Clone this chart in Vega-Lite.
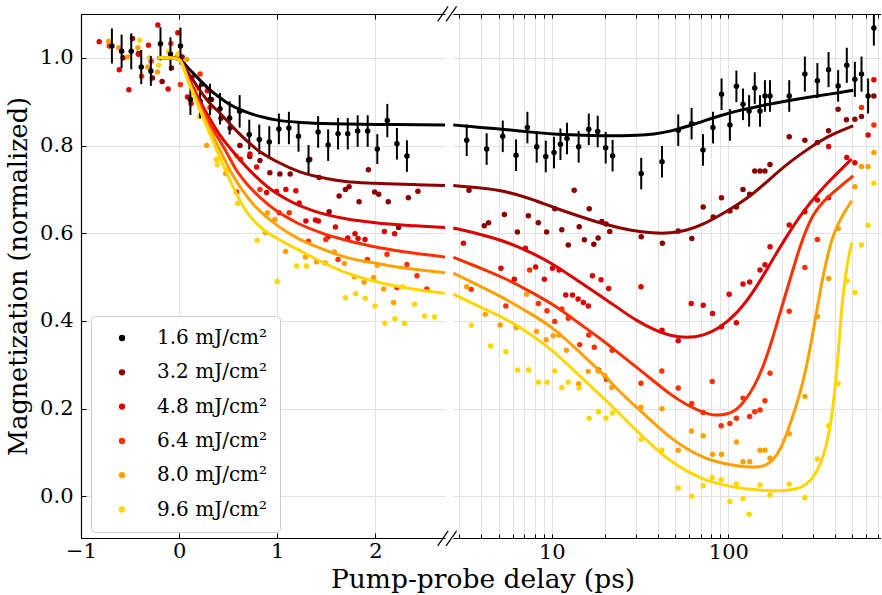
{
  "$schema": "https://vega.github.io/schema/vega-lite/v6.json",
  "padding": {"left": 6, "top": 5, "right": 0, "bottom": 0},
  "bounds": "flush",
  "spacing": 8,
  "background": "white",
  "title": {"text": "Pump-probe delay (ps)", "orient": "bottom", "anchor": "middle", "frame": "group", "dx": 402, "font": "DejaVu Serif", "fontSize": 26.5, "fontWeight": "normal", "color": "black", "offset": 5},
  "config": {
    "view": {"stroke": null},
    "font": "DejaVu Serif",
    "axis": {
      "labelFont": "DejaVu Serif", "titleFont": "DejaVu Serif",
      "labelFontSize": 21, "titleFontSize": 25.5, "titleFontWeight": "normal",
      "labelColor": "black", "titleColor": "black",
      "domainColor": "black", "domainWidth": 1.2,
      "tickColor": "black", "tickWidth": 1, "tickSize": -5,
      "gridColor": "#e2e2e2", "gridWidth": 1,
      "labelFlush": false, "labelOverlap": false
    },
    "legend": {
      "labelFont": "DejaVu Serif", "labelFontSize": 20, "labelColor": "black",
      "symbolType": "circle", "symbolSize": 40, "symbolStrokeWidth": 0
    }
  },
  "resolve": {"scale": {"x": "independent", "y": "independent", "color": "shared"}, "legend": {"color": "independent"}},
  "datasets": {
    "blk": [
      {"s":"1.6","t":-0.685,"m":1.027,"lo":0.987,"hi":1.067},
      {"s":"1.6","t":-0.586,"m":1.015,"lo":0.977,"hi":1.053},
      {"s":"1.6","t":-0.488,"m":1.015,"lo":0.974,"hi":1.056},
      {"s":"1.6","t":-0.386,"m":0.979,"lo":0.940,"hi":1.018},
      {"s":"1.6","t":-0.288,"m":0.970,"lo":0.936,"hi":1.004},
      {"s":"1.6","t":-0.19,"m":1.032,"lo":0.994,"hi":1.070},
      {"s":"1.6","t":-0.088,"m":1.009,"lo":0.971,"hi":1.047},
      {"s":"1.6","t":0.014,"m":1.027,"lo":0.985,"hi":1.069},
      {"s":"1.6","t":0.115,"m":0.905,"lo":0.870,"hi":0.940},
      {"s":"1.6","t":0.214,"m":0.901,"lo":0.862,"hi":0.940},
      {"s":"1.6","t":0.315,"m":0.905,"lo":0.869,"hi":0.941},
      {"s":"1.6","t":0.417,"m":0.884,"lo":0.848,"hi":0.920},
      {"s":"1.6","t":0.515,"m":0.863,"lo":0.825,"hi":0.901},
      {"s":"1.6","t":0.617,"m":0.878,"lo":0.841,"hi":0.915},
      {"s":"1.6","t":0.715,"m":0.825,"lo":0.791,"hi":0.859},
      {"s":"1.6","t":0.817,"m":0.814,"lo":0.780,"hi":0.848},
      {"s":"1.6","t":0.919,"m":0.808,"lo":0.772,"hi":0.844},
      {"s":"1.6","t":1.017,"m":0.838,"lo":0.803,"hi":0.873},
      {"s":"1.6","t":1.119,"m":0.840,"lo":0.803,"hi":0.877},
      {"s":"1.6","t":1.217,"m":0.821,"lo":0.786,"hi":0.856},
      {"s":"1.6","t":1.319,"m":0.767,"lo":0.733,"hi":0.801},
      {"s":"1.6","t":1.417,"m":0.831,"lo":0.795,"hi":0.867},
      {"s":"1.6","t":1.519,"m":0.801,"lo":0.765,"hi":0.837},
      {"s":"1.6","t":1.62,"m":0.827,"lo":0.791,"hi":0.863},
      {"s":"1.6","t":1.719,"m":0.827,"lo":0.791,"hi":0.863},
      {"s":"1.6","t":1.82,"m":0.833,"lo":0.797,"hi":0.869},
      {"s":"1.6","t":1.922,"m":0.833,"lo":0.797,"hi":0.869},
      {"s":"1.6","t":2.02,"m":0.792,"lo":0.758,"hi":0.826},
      {"s":"1.6","t":2.122,"m":0.857,"lo":0.819,"hi":0.895},
      {"s":"1.6","t":2.22,"m":0.804,"lo":0.768,"hi":0.840},
      {"s":"1.6","t":2.322,"m":0.776,"lo":0.740,"hi":0.812},
      {"s":"1.6","t":3.30,"m":0.812,"lo":0.776,"hi":0.848},
      {"s":"1.6","t":4.28,"m":0.792,"lo":0.756,"hi":0.828},
      {"s":"1.6","t":5.28,"m":0.821,"lo":0.785,"hi":0.857},
      {"s":"1.6","t":6.28,"m":0.778,"lo":0.742,"hi":0.814},
      {"s":"1.6","t":7.28,"m":0.841,"lo":0.805,"hi":0.877},
      {"s":"1.6","t":8.22,"m":0.797,"lo":0.761,"hi":0.833},
      {"s":"1.6","t":9.25,"m":0.775,"lo":0.739,"hi":0.811},
      {"s":"1.6","t":10.3,"m":0.784,"lo":0.748,"hi":0.820},
      {"s":"1.6","t":11.2,"m":0.803,"lo":0.767,"hi":0.839},
      {"s":"1.6","t":12.2,"m":0.816,"lo":0.780,"hi":0.852},
      {"s":"1.6","t":14.2,"m":0.797,"lo":0.761,"hi":0.833},
      {"s":"1.6","t":16.2,"m":0.837,"lo":0.801,"hi":0.873},
      {"s":"1.6","t":18.2,"m":0.832,"lo":0.796,"hi":0.868},
      {"s":"1.6","t":20.2,"m":0.795,"lo":0.759,"hi":0.831},
      {"s":"1.6","t":22.1,"m":0.777,"lo":0.741,"hi":0.813},
      {"s":"1.6","t":32.1,"m":0.736,"lo":0.700,"hi":0.772},
      {"s":"1.6","t":42.1,"m":0.763,"lo":0.727,"hi":0.799},
      {"s":"1.6","t":52.0,"m":0.835,"lo":0.799,"hi":0.871},
      {"s":"1.6","t":61.9,"m":0.850,"lo":0.814,"hi":0.886},
      {"s":"1.6","t":71.8,"m":0.790,"lo":0.754,"hi":0.826},
      {"s":"1.6","t":81.8,"m":0.841,"lo":0.805,"hi":0.877},
      {"s":"1.6","t":91.5,"m":0.917,"lo":0.881,"hi":0.953},
      {"s":"1.6","t":102,"m":0.847,"lo":0.811,"hi":0.883},
      {"s":"1.6","t":111,"m":0.935,"lo":0.899,"hi":0.971},
      {"s":"1.6","t":121,"m":0.894,"lo":0.858,"hi":0.930},
      {"s":"1.6","t":131,"m":0.879,"lo":0.843,"hi":0.915},
      {"s":"1.6","t":141,"m":0.931,"lo":0.895,"hi":0.967},
      {"s":"1.6","t":151,"m":0.879,"lo":0.843,"hi":0.915},
      {"s":"1.6","t":161,"m":0.913,"lo":0.877,"hi":0.949},
      {"s":"1.6","t":172,"m":0.913,"lo":0.877,"hi":0.949},
      {"s":"1.6","t":221,"m":0.913,"lo":0.877,"hi":0.949},
      {"s":"1.6","t":271,"m":0.963,"lo":0.923,"hi":1.003},
      {"s":"1.6","t":319,"m":0.948,"lo":0.908,"hi":0.988},
      {"s":"1.6","t":369,"m":0.973,"lo":0.933,"hi":1.013},
      {"s":"1.6","t":418,"m":0.936,"lo":0.900,"hi":0.972},
      {"s":"1.6","t":468,"m":0.983,"lo":0.943,"hi":1.023},
      {"s":"1.6","t":520,"m":0.951,"lo":0.911,"hi":0.991},
      {"s":"1.6","t":567,"m":0.963,"lo":0.923,"hi":1.003},
      {"s":"1.6","t":618,"m":0.913,"lo":0.873,"hi":0.953},
      {"s":"1.6","t":666,"m":1.068,"lo":1.028,"hi":1.108}
    ],
    "pts": [
      {"s":"3.2","t":-0.57,"m":1.0},{"s":"3.2","t":-0.475,"m":1.044},{"s":"3.2","t":-0.414,"m":1.01},{"s":"3.2","t":-0.272,"m":0.954},
      {"s":"3.2","t":-0.173,"m":0.946},{"s":"3.2","t":-0.078,"m":0.977},{"s":"3.2","t":0.031,"m":1.002},{"s":"3.2","t":0.13,"m":0.955},
      {"s":"3.2","t":0.231,"m":0.94},{"s":"3.2","t":0.33,"m":0.905},{"s":"3.2","t":0.427,"m":0.862},{"s":"3.2","t":0.52,"m":0.84},
      {"s":"3.2","t":0.62,"m":0.80},{"s":"3.2","t":0.72,"m":0.775},{"s":"3.2","t":0.824,"m":0.766},{"s":"3.2","t":0.925,"m":0.738},
      {"s":"3.2","t":1.027,"m":0.735},{"s":"3.2","t":1.132,"m":0.735},{"s":"3.2","t":1.332,"m":0.768},{"s":"3.2","t":1.427,"m":0.727},
      {"s":"3.2","t":1.529,"m":0.649},{"s":"3.2","t":1.631,"m":0.685},{"s":"3.2","t":1.695,"m":0.70},{"s":"3.2","t":1.732,"m":0.706},
      {"s":"3.2","t":1.834,"m":0.672},{"s":"3.2","t":1.929,"m":0.745},{"s":"3.2","t":1.993,"m":0.694},{"s":"3.2","t":2.034,"m":0.689},
      {"s":"3.2","t":2.132,"m":0.672},{"s":"3.2","t":2.237,"m":0.613},{"s":"3.2","t":2.336,"m":0.681},{"s":"3.2","t":2.434,"m":0.696},
      {"s":"3.2","t":3.40,"m":0.698},{"s":"3.2","t":4.15,"m":0.617},{"s":"3.2","t":4.39,"m":0.624},{"s":"3.2","t":5.39,"m":0.643},
      {"s":"3.2","t":6.39,"m":0.603},{"s":"3.2","t":7.37,"m":0.640},{"s":"3.2","t":8.39,"m":0.624},{"s":"3.2","t":9.35,"m":0.603},
      {"s":"3.2","t":10.4,"m":0.656},{"s":"3.2","t":11.4,"m":0.608},{"s":"3.2","t":12.4,"m":0.573},{"s":"3.2","t":13.4,"m":0.698},
      {"s":"3.2","t":14.3,"m":0.615},{"s":"3.2","t":15.3,"m":0.585},{"s":"3.2","t":16.3,"m":0.656},{"s":"3.2","t":17.3,"m":0.575},
      {"s":"3.2","t":18.3,"m":0.589},{"s":"3.2","t":19.2,"m":0.627},{"s":"3.2","t":20.3,"m":0.621},{"s":"3.2","t":21.3,"m":0.604},
      {"s":"3.2","t":32.1,"m":0.592},{"s":"3.2","t":42.3,"m":0.577},{"s":"3.2","t":52.0,"m":0.605},{"s":"3.2","t":62.1,"m":0.588},
      {"s":"3.2","t":72.0,"m":0.660},{"s":"3.2","t":82.0,"m":0.637},{"s":"3.2","t":91.4,"m":0.681},{"s":"3.2","t":102,"m":0.651},
      {"s":"3.2","t":111,"m":0.660},{"s":"3.2","t":121,"m":0.700},{"s":"3.2","t":132,"m":0.689},{"s":"3.2","t":141,"m":0.742},
      {"s":"3.2","t":151,"m":0.742},{"s":"3.2","t":161,"m":0.742},{"s":"3.2","t":172,"m":0.757},{"s":"3.2","t":221,"m":0.820},
      {"s":"3.2","t":271,"m":0.812},{"s":"3.2","t":319,"m":0.807},{"s":"3.2","t":369,"m":0.834},{"s":"3.2","t":418,"m":0.883},
      {"s":"3.2","t":466,"m":0.859},{"s":"3.2","t":520,"m":0.86},{"s":"3.2","t":567,"m":0.866},{"s":"3.2","t":666,"m":0.913},

      {"s":"4.8","t":-0.814,"m":1.037},{"s":"4.8","t":-0.61,"m":0.973},{"s":"4.8","t":-0.512,"m":0.927},{"s":"4.8","t":-0.414,"m":1.008},
      {"s":"4.8","t":-0.312,"m":1.029},{"s":"4.8","t":-0.217,"m":1.075},{"s":"4.8","t":-0.112,"m":0.929},{"s":"4.8","t":-0.013,"m":1.057},
      {"s":"4.8","t":0.085,"m":0.911},{"s":"4.8","t":0.122,"m":0.896},{"s":"4.8","t":0.288,"m":0.925},{"s":"4.8","t":0.722,"m":0.781},
      {"s":"4.8","t":0.79,"m":0.751},{"s":"4.8","t":0.892,"m":0.693},{"s":"4.8","t":0.993,"m":0.695},{"s":"4.8","t":1.088,"m":0.70},
      {"s":"4.8","t":1.19,"m":0.697},{"s":"4.8","t":1.224,"m":0.669},{"s":"4.8","t":1.292,"m":0.628},{"s":"4.8","t":1.39,"m":0.630},
      {"s":"4.8","t":1.42,"m":0.628},{"s":"4.8","t":1.519,"m":0.592},{"s":"4.8","t":1.593,"m":0.614},{"s":"4.8","t":1.719,"m":0.589},
      {"s":"4.8","t":1.793,"m":0.599},{"s":"4.8","t":1.824,"m":0.588},{"s":"4.8","t":1.895,"m":0.586},{"s":"4.8","t":2.092,"m":0.604},
      {"s":"4.8","t":2.197,"m":0.599},
      {"s":"4.8","t":3.16,"m":0.577},{"s":"4.8","t":5.16,"m":0.520},{"s":"4.8","t":6.14,"m":0.495},{"s":"4.8","t":7.1,"m":0.566},
      {"s":"4.8","t":8.1,"m":0.523},{"s":"4.8","t":9.08,"m":0.495},{"s":"4.8","t":10.1,"m":0.520},{"s":"4.8","t":11.0,"m":0.516},
      {"s":"4.8","t":12.0,"m":0.459},{"s":"4.8","t":13.1,"m":0.459},{"s":"4.8","t":14.1,"m":0.450},{"s":"4.8","t":15.1,"m":0.442},
      {"s":"4.8","t":16.1,"m":0.434},{"s":"4.8","t":17.0,"m":0.503},{"s":"4.8","t":19.0,"m":0.494},{"s":"4.8","t":21.0,"m":0.474},
      {"s":"4.8","t":32.0,"m":0.478},{"s":"4.8","t":42.1,"m":0.379},{"s":"4.8","t":52.0,"m":0.355},{"s":"4.8","t":61.6,"m":0.440},
      {"s":"4.8","t":72.0,"m":0.436},{"s":"4.8","t":81.3,"m":0.417},{"s":"4.8","t":91.4,"m":0.387},{"s":"4.8","t":101,"m":0.461},
      {"s":"4.8","t":111,"m":0.396},{"s":"4.8","t":121,"m":0.484},{"s":"4.8","t":132,"m":0.489},{"s":"4.8","t":151,"m":0.516},
      {"s":"4.8","t":161,"m":0.528},{"s":"4.8","t":172,"m":0.569},{"s":"4.8","t":221,"m":0.619},{"s":"4.8","t":271,"m":0.649},
      {"s":"4.8","t":319,"m":0.676},{"s":"4.8","t":369,"m":0.681},{"s":"4.8","t":369.5,"m":0.798},{"s":"4.8","t":468,"m":0.773},
      {"s":"4.8","t":520,"m":0.761},{"s":"4.8","t":618,"m":0.824},{"s":"4.8","t":666,"m":0.95},

      {"s":"6.4","t":-0.712,"m":1.027},{"s":"6.4","t":-0.383,"m":0.958},{"s":"6.4","t":-0.285,"m":0.993},{"s":"6.4","t":-0.085,"m":1.033},
      {"s":"6.4","t":0.013,"m":0.939},{"s":"6.4","t":0.214,"m":0.963},{"s":"6.4","t":0.315,"m":0.887},{"s":"6.4","t":0.586,"m":0.694},
      {"s":"6.4","t":0.627,"m":0.769},{"s":"6.4","t":0.824,"m":0.70},{"s":"6.4","t":1.02,"m":0.647},{"s":"6.4","t":1.122,"m":0.647},
      {"s":"6.4","t":1.319,"m":0.582},{"s":"6.4","t":1.495,"m":0.586},{"s":"6.4","t":1.62,"m":0.54},{"s":"6.4","t":1.919,"m":0.54},
      {"s":"6.4","t":2.119,"m":0.552},{"s":"6.4","t":2.22,"m":0.476},{"s":"6.4","t":2.322,"m":0.529},{"s":"6.4","t":2.424,"m":0.503},
      {"s":"6.4","t":2.525,"m":0.473},
      {"s":"6.4","t":3.5,"m":0.472},{"s":"6.4","t":5.5,"m":0.434},{"s":"6.4","t":7.5,"m":0.516},{"s":"6.4","t":8.4,"m":0.44},
      {"s":"6.4","t":9.4,"m":0.423},{"s":"6.4","t":10.4,"m":0.399},{"s":"6.4","t":11.4,"m":0.427},{"s":"6.4","t":12.4,"m":0.406},
      {"s":"6.4","t":14.4,"m":0.346},{"s":"6.4","t":16.2,"m":0.368},{"s":"6.4","t":17.4,"m":0.34},{"s":"6.4","t":18.4,"m":0.288},
      {"s":"6.4","t":20.4,"m":0.267},{"s":"6.4","t":22,"m":0.333},{"s":"6.4","t":32,"m":0.258},{"s":"6.4","t":42,"m":0.286},
      {"s":"6.4","t":52,"m":0.247},{"s":"6.4","t":62,"m":0.212},{"s":"6.4","t":72,"m":0.191},{"s":"6.4","t":81,"m":0.262},
      {"s":"6.4","t":91,"m":0.161},{"s":"6.4","t":102,"m":0.166},{"s":"6.4","t":111,"m":0.178},{"s":"6.4","t":121,"m":0.224},
      {"s":"6.4","t":132,"m":0.182},{"s":"6.4","t":141,"m":0.193},{"s":"6.4","t":151,"m":0.197},{"s":"6.4","t":161,"m":0.218},
      {"s":"6.4","t":172,"m":0.281},{"s":"6.4","t":221,"m":0.422},{"s":"6.4","t":271,"m":0.522},{"s":"6.4","t":319,"m":0.586},
      {"s":"6.4","t":567,"m":0.887},{"s":"6.4","t":666,"m":0.847},

      {"s":"8.0","t":-0.719,"m":1.038},{"s":"8.0","t":-0.617,"m":1.023},{"s":"8.0","t":-0.522,"m":1.002},{"s":"8.0","t":-0.42,"m":1.023},
      {"s":"8.0","t":-0.319,"m":0.979},{"s":"8.0","t":-0.22,"m":0.968},{"s":"8.0","t":-0.017,"m":1.004},{"s":"8.0","t":0.078,"m":0.996},
      {"s":"8.0","t":0.18,"m":0.93},{"s":"8.0","t":0.281,"m":0.80},{"s":"8.0","t":0.38,"m":0.768},{"s":"8.0","t":0.475,"m":0.736},
      {"s":"8.0","t":0.586,"m":0.776},{"s":"8.0","t":0.88,"m":0.6015},{"s":"8.0","t":0.9,"m":0.647},{"s":"8.0","t":0.976,"m":0.6315},
      {"s":"8.0","t":1.085,"m":0.5585},{"s":"8.0","t":1.288,"m":0.546},{"s":"8.0","t":1.4,"m":0.535},{"s":"8.0","t":1.488,"m":0.532},
      {"s":"8.0","t":1.583,"m":0.557},{"s":"8.0","t":1.685,"m":0.531},{"s":"8.0","t":1.786,"m":0.501},{"s":"8.0","t":1.885,"m":0.488},
      {"s":"8.0","t":1.983,"m":0.499},{"s":"8.0","t":2.02,"m":0.527},{"s":"8.0","t":2.085,"m":0.473},{"s":"8.0","t":2.186,"m":0.442},
      {"s":"8.0","t":3.3,"m":0.478},{"s":"8.0","t":4.2,"m":0.415},{"s":"8.0","t":5.1,"m":0.391},{"s":"8.0","t":6.3,"m":0.385},
      {"s":"8.0","t":7.2,"m":0.461},{"s":"8.0","t":8.2,"m":0.376},{"s":"8.0","t":9.3,"m":0.357},{"s":"8.0","t":10.2,"m":0.366},
      {"s":"8.0","t":11.0,"m":0.368},{"s":"8.0","t":12.1,"m":0.333},{"s":"8.0","t":14.2,"m":0.257},{"s":"8.0","t":16.1,"m":0.285},
      {"s":"8.0","t":18.3,"m":0.286},{"s":"8.0","t":20.0,"m":0.275},{"s":"8.0","t":21.9,"m":0.248},{"s":"8.0","t":32,"m":0.203},
      {"s":"8.0","t":42.1,"m":0.20},{"s":"8.0","t":52,"m":0.105},{"s":"8.0","t":61.8,"m":0.149},{"s":"8.0","t":72,"m":0.138},
      {"s":"8.0","t":81.3,"m":0.096},{"s":"8.0","t":91.4,"m":0.096},{"s":"8.0","t":111,"m":0.124},{"s":"8.0","t":121,"m":0.079},
      {"s":"8.0","t":132,"m":0.079},{"s":"8.0","t":151,"m":0.105},{"s":"8.0","t":161,"m":0.105},{"s":"8.0","t":172,"m":0.087},
      {"s":"8.0","t":221,"m":0.143},{"s":"8.0","t":271,"m":0.228},{"s":"8.0","t":319,"m":0.41},{"s":"8.0","t":370,"m":0.497},
      {"s":"8.0","t":418,"m":0.611},{"s":"8.0","t":520,"m":0.706},{"s":"8.0","t":567,"m":0.752},{"s":"8.0","t":618,"m":0.752},
      {"s":"8.0","t":666,"m":0.784},

      {"s":"9.6","t":-0.403,"m":1.04},{"s":"9.6","t":-0.302,"m":1.0},{"s":"9.6","t":-0.207,"m":0.983},{"s":"9.6","t":-0.108,"m":1.015},
      {"s":"9.6","t":-0.007,"m":1.01},{"s":"9.6","t":0.088,"m":0.963},{"s":"9.6","t":0.207,"m":0.866},{"s":"9.6","t":0.383,"m":0.769},
      {"s":"9.6","t":0.39,"m":0.756},{"s":"9.6","t":0.485,"m":0.745},{"s":"9.6","t":0.597,"m":0.668},{"s":"9.6","t":0.797,"m":0.584},
      {"s":"9.6","t":1.0,"m":0.49},{"s":"9.6","t":1.197,"m":0.5255},{"s":"9.6","t":1.298,"m":0.5255},{"s":"9.6","t":1.695,"m":0.453},
      {"s":"9.6","t":1.8,"m":0.462},{"s":"9.6","t":1.898,"m":0.452},{"s":"9.6","t":1.997,"m":0.434},{"s":"9.6","t":2.098,"m":0.395},
      {"s":"9.6","t":2.2,"m":0.405},{"s":"9.6","t":2.278,"m":0.478},{"s":"9.6","t":2.298,"m":0.395},{"s":"9.6","t":2.4,"m":0.438},
      {"s":"9.6","t":2.502,"m":0.4115},{"s":"9.6","t":2.603,"m":0.409},
      {"s":"9.6","t":3.5,"m":0.39},{"s":"9.6","t":4.5,"m":0.343},{"s":"9.6","t":5.5,"m":0.330},{"s":"9.6","t":6.4,"m":0.288},
      {"s":"9.6","t":7.4,"m":0.288},{"s":"9.6","t":8.4,"m":0.26},{"s":"9.6","t":9.4,"m":0.26},{"s":"9.6","t":10.4,"m":0.286},
      {"s":"9.6","t":11.4,"m":0.248},{"s":"9.6","t":12.4,"m":0.26},{"s":"9.6","t":14.3,"m":0.247},{"s":"9.6","t":16.3,"m":0.178},
      {"s":"9.6","t":18.4,"m":0.193},{"s":"9.6","t":20.3,"m":0.178},{"s":"9.6","t":22.1,"m":0.19},{"s":"9.6","t":32,"m":0.13},
      {"s":"9.6","t":42,"m":0.105},{"s":"9.6","t":52,"m":0.019},{"s":"9.6","t":62,"m":0.0},{"s":"9.6","t":72,"m":0.024},
      {"s":"9.6","t":81,"m":0.043},{"s":"9.6","t":91,"m":0.038},{"s":"9.6","t":102,"m":-0.012},{"s":"9.6","t":111,"m":0.028},
      {"s":"9.6","t":121,"m":-0.005},{"s":"9.6","t":131,"m":-0.041},{"s":"9.6","t":151,"m":0.026},{"s":"9.6","t":172,"m":0.003},
      {"s":"9.6","t":221,"m":0.028},{"s":"9.6","t":271,"m":-0.003},{"s":"9.6","t":319,"m":0.085},{"s":"9.6","t":370,"m":0.161},
      {"s":"9.6","t":418,"m":0.257},{"s":"9.6","t":470,"m":0.491},{"s":"9.6","t":520,"m":0.465},{"s":"9.6","t":567,"m":0.573},
      {"s":"9.6","t":618,"m":0.618},{"s":"9.6","t":666,"m":0.714}
    ],
    "fit": [
      {"s":"1.6","t":-0.22,"m":1.0},{"s":"1.6","t":-0.1,"m":1.0},{"s":"1.6","t":0,"m":0.997},{"s":"1.6","t":0.1,"m":0.975},
      {"s":"1.6","t":0.2,"m":0.952},{"s":"1.6","t":0.3,"m":0.93},{"s":"1.6","t":0.4,"m":0.912},{"s":"1.6","t":0.5,"m":0.896},
      {"s":"1.6","t":0.6,"m":0.884},{"s":"1.6","t":0.7,"m":0.875},{"s":"1.6","t":0.85,"m":0.865},{"s":"1.6","t":1.0,"m":0.858},
      {"s":"1.6","t":1.3,"m":0.852},{"s":"1.6","t":1.7,"m":0.849},{"s":"1.6","t":2.2,"m":0.848},{"s":"1.6","t":2.71,"m":0.847},
      {"s":"1.6","t":2.77,"m":0.847},{"s":"1.6","t":4,"m":0.841},{"s":"1.6","t":5.32,"m":0.837},{"s":"1.6","t":7.5,"m":0.831},
      {"s":"1.6","t":10.2,"m":0.826},{"s":"1.6","t":14,"m":0.824},{"s":"1.6","t":19.6,"m":0.822},{"s":"1.6","t":25,"m":0.822},
      {"s":"1.6","t":30.3,"m":0.823},{"s":"1.6","t":38,"m":0.826},{"s":"1.6","t":46.7,"m":0.832},{"s":"1.6","t":58,"m":0.843},
      {"s":"1.6","t":72.1,"m":0.856},{"s":"1.6","t":90,"m":0.868},{"s":"1.6","t":111.5,"m":0.879},{"s":"1.6","t":150,"m":0.89},
      {"s":"1.6","t":213.6,"m":0.902},{"s":"1.6","t":300,"m":0.912},{"s":"1.6","t":400,"m":0.919},{"s":"1.6","t":509,"m":0.926},

      {"s":"3.2","t":-0.22,"m":1.0},{"s":"3.2","t":-0.1,"m":1.0},{"s":"3.2","t":0,"m":0.996},{"s":"3.2","t":0.1,"m":0.963},
      {"s":"3.2","t":0.2,"m":0.93},{"s":"3.2","t":0.3,"m":0.9},{"s":"3.2","t":0.42,"m":0.873},{"s":"3.2","t":0.6,"m":0.83},
      {"s":"3.2","t":0.8,"m":0.79},{"s":"3.2","t":1.0,"m":0.763},{"s":"3.2","t":1.23,"m":0.74},{"s":"3.2","t":1.5,"m":0.725},
      {"s":"3.2","t":1.7,"m":0.718},{"s":"3.2","t":2.0,"m":0.714},{"s":"3.2","t":2.4,"m":0.711},{"s":"3.2","t":2.71,"m":0.709},
      {"s":"3.2","t":2.77,"m":0.709},{"s":"3.2","t":4,"m":0.703},{"s":"3.2","t":5.32,"m":0.697},{"s":"3.2","t":7.5,"m":0.68},
      {"s":"3.2","t":10.2,"m":0.659},{"s":"3.2","t":14,"m":0.64},{"s":"3.2","t":19.6,"m":0.621},{"s":"3.2","t":28,"m":0.606},
      {"s":"3.2","t":37.6,"m":0.6},{"s":"3.2","t":47,"m":0.6},{"s":"3.2","t":58.1,"m":0.606},{"s":"3.2","t":72,"m":0.62},
      {"s":"3.2","t":89.7,"m":0.641},{"s":"3.2","t":110,"m":0.662},{"s":"3.2","t":138.5,"m":0.69},{"s":"3.2","t":170,"m":0.722},
      {"s":"3.2","t":213.6,"m":0.757},{"s":"3.2","t":260,"m":0.782},{"s":"3.2","t":330,"m":0.811},{"s":"3.2","t":410,"m":0.83},
      {"s":"3.2","t":509,"m":0.845},

      {"s":"4.8","t":-0.22,"m":1.0},{"s":"4.8","t":-0.1,"m":1.0},{"s":"4.8","t":0,"m":0.996},{"s":"4.8","t":0.1,"m":0.952},
      {"s":"4.8","t":0.2,"m":0.907},{"s":"4.8","t":0.3,"m":0.866},{"s":"4.8","t":0.4,"m":0.829},{"s":"4.8","t":0.55,"m":0.786},
      {"s":"4.8","t":0.7,"m":0.748},{"s":"4.8","t":0.9,"m":0.706},{"s":"4.8","t":1.1,"m":0.677},{"s":"4.8","t":1.37,"m":0.651},
      {"s":"4.8","t":1.7,"m":0.633},{"s":"4.8","t":2.0,"m":0.624},{"s":"4.8","t":2.4,"m":0.617},{"s":"4.8","t":2.71,"m":0.613},
      {"s":"4.8","t":2.77,"m":0.612},{"s":"4.8","t":4,"m":0.597},{"s":"4.8","t":5.32,"m":0.583},{"s":"4.8","t":7.5,"m":0.558},
      {"s":"4.8","t":10.2,"m":0.53},{"s":"4.8","t":14,"m":0.492},{"s":"4.8","t":19.6,"m":0.453},{"s":"4.8","t":24,"m":0.428},
      {"s":"4.8","t":30.3,"m":0.4},{"s":"4.8","t":38,"m":0.38},{"s":"4.8","t":46.7,"m":0.366},{"s":"4.8","t":58.1,"m":0.361},
      {"s":"4.8","t":72.1,"m":0.366},{"s":"4.8","t":90,"m":0.385},{"s":"4.8","t":111.5,"m":0.416},{"s":"4.8","t":140,"m":0.468},
      {"s":"4.8","t":172,"m":0.53},{"s":"4.8","t":215,"m":0.595},{"s":"4.8","t":265,"m":0.65},{"s":"4.8","t":320,"m":0.69},
      {"s":"4.8","t":375,"m":0.72},{"s":"4.8","t":440,"m":0.748},{"s":"4.8","t":499,"m":0.769},

      {"s":"6.4","t":-0.22,"m":1.0},{"s":"6.4","t":-0.1,"m":1.0},{"s":"6.4","t":0,"m":0.996},{"s":"6.4","t":0.1,"m":0.948},
      {"s":"6.4","t":0.2,"m":0.9},{"s":"6.4","t":0.3,"m":0.855},{"s":"6.4","t":0.47,"m":0.79},{"s":"6.4","t":0.59,"m":0.742},
      {"s":"6.4","t":0.7,"m":0.71},{"s":"6.4","t":0.824,"m":0.682},{"s":"6.4","t":1.0,"m":0.65},{"s":"6.4","t":1.2,"m":0.624},
      {"s":"6.4","t":1.45,"m":0.601},{"s":"6.4","t":1.705,"m":0.584},{"s":"6.4","t":2.044,"m":0.567},{"s":"6.4","t":2.35,"m":0.556},
      {"s":"6.4","t":2.71,"m":0.546},
      {"s":"6.4","t":2.77,"m":0.545},{"s":"6.4","t":4,"m":0.52},{"s":"6.4","t":5.32,"m":0.499},{"s":"6.4","t":7.5,"m":0.468},
      {"s":"6.4","t":10.2,"m":0.438},{"s":"6.4","t":14,"m":0.397},{"s":"6.4","t":19.6,"m":0.355},{"s":"6.4","t":24,"m":0.326},
      {"s":"6.4","t":30.3,"m":0.294},{"s":"6.4","t":38,"m":0.262},{"s":"6.4","t":46.7,"m":0.233},{"s":"6.4","t":58,"m":0.208},
      {"s":"6.4","t":72.1,"m":0.191},{"s":"6.4","t":82,"m":0.184},{"s":"6.4","t":100,"m":0.187},{"s":"6.4","t":112,"m":0.198},
      {"s":"6.4","t":124,"m":0.218},{"s":"6.4","t":140,"m":0.25},{"s":"6.4","t":157,"m":0.294},{"s":"6.4","t":175,"m":0.35},
      {"s":"6.4","t":195,"m":0.416},{"s":"6.4","t":218,"m":0.48},{"s":"6.4","t":243,"m":0.545},{"s":"6.4","t":270,"m":0.6},
      {"s":"6.4","t":302,"m":0.644},{"s":"6.4","t":340,"m":0.67},{"s":"6.4","t":369,"m":0.684},{"s":"6.4","t":427,"m":0.706},
      {"s":"6.4","t":509,"m":0.731},

      {"s":"8.0","t":-0.22,"m":1.0},{"s":"8.0","t":-0.1,"m":1.0},{"s":"8.0","t":0,"m":0.996},{"s":"8.0","t":0.1,"m":0.945},
      {"s":"8.0","t":0.2,"m":0.893},{"s":"8.0","t":0.3,"m":0.842},{"s":"8.0","t":0.42,"m":0.788},{"s":"8.0","t":0.536,"m":0.737},
      {"s":"8.0","t":0.756,"m":0.666},{"s":"8.0","t":1.0,"m":0.618},{"s":"8.0","t":1.197,"m":0.59},{"s":"8.0","t":1.45,"m":0.565},
      {"s":"8.0","t":1.705,"m":0.545},{"s":"8.0","t":2.044,"m":0.53},{"s":"8.0","t":2.35,"m":0.519},{"s":"8.0","t":2.71,"m":0.51},
      {"s":"8.0","t":2.77,"m":0.509},{"s":"8.0","t":4,"m":0.478},{"s":"8.0","t":5.32,"m":0.453},{"s":"8.0","t":7.5,"m":0.418},
      {"s":"8.0","t":10.2,"m":0.385},{"s":"8.0","t":14,"m":0.333},{"s":"8.0","t":19.6,"m":0.279},{"s":"8.0","t":24,"m":0.24},
      {"s":"8.0","t":30.3,"m":0.2025},{"s":"8.0","t":38,"m":0.166},{"s":"8.0","t":46.7,"m":0.134},{"s":"8.0","t":58,"m":0.108},
      {"s":"8.0","t":72.1,"m":0.0885},{"s":"8.0","t":90,"m":0.076},{"s":"8.0","t":111.5,"m":0.0696},{"s":"8.0","t":138.5,"m":0.0657},
      {"s":"8.0","t":160,"m":0.068},{"s":"8.0","t":180,"m":0.082},{"s":"8.0","t":200,"m":0.112},{"s":"8.0","t":213.6,"m":0.142},
      {"s":"8.0","t":240,"m":0.2},{"s":"8.0","t":265.6,"m":0.263},{"s":"8.0","t":285,"m":0.32},{"s":"8.0","t":302,"m":0.377},
      {"s":"8.0","t":325,"m":0.45},{"s":"8.0","t":345,"m":0.507},{"s":"8.0","t":370,"m":0.56},{"s":"8.0","t":393,"m":0.598},
      {"s":"8.0","t":440,"m":0.64},{"s":"8.0","t":499,"m":0.674},

      {"s":"9.6","t":-0.22,"m":1.0},{"s":"9.6","t":-0.1,"m":1.0},{"s":"9.6","t":0,"m":0.996},{"s":"9.6","t":0.1,"m":0.942},
      {"s":"9.6","t":0.2,"m":0.888},{"s":"9.6","t":0.3,"m":0.834},{"s":"9.6","t":0.4,"m":0.781},{"s":"9.6","t":0.5,"m":0.73},
      {"s":"9.6","t":0.6,"m":0.683},{"s":"9.6","t":0.7,"m":0.645},{"s":"9.6","t":0.85,"m":0.61},{"s":"9.6","t":1.0,"m":0.588},
      {"s":"9.6","t":1.2,"m":0.564},{"s":"9.6","t":1.45,"m":0.535},{"s":"9.6","t":1.7,"m":0.51},{"s":"9.6","t":2.0,"m":0.49},
      {"s":"9.6","t":2.35,"m":0.474},{"s":"9.6","t":2.71,"m":0.463},
      {"s":"9.6","t":2.77,"m":0.461},{"s":"9.6","t":4,"m":0.43},{"s":"9.6","t":5.32,"m":0.408},{"s":"9.6","t":7.5,"m":0.372},
      {"s":"9.6","t":10.2,"m":0.332},{"s":"9.6","t":14,"m":0.279},{"s":"9.6","t":19.6,"m":0.225},{"s":"9.6","t":24,"m":0.19},
      {"s":"9.6","t":30.3,"m":0.149},{"s":"9.6","t":38,"m":0.112},{"s":"9.6","t":46.7,"m":0.081},{"s":"9.6","t":58,"m":0.057},
      {"s":"9.6","t":72.1,"m":0.039},{"s":"9.6","t":90,"m":0.027},{"s":"9.6","t":111.5,"m":0.02},{"s":"9.6","t":140,"m":0.015},
      {"s":"9.6","t":172,"m":0.0125},{"s":"9.6","t":210,"m":0.013},{"s":"9.6","t":243,"m":0.016},{"s":"9.6","t":275,"m":0.026},
      {"s":"9.6","t":302,"m":0.043},{"s":"9.6","t":330,"m":0.07},{"s":"9.6","t":358,"m":0.111},{"s":"9.6","t":385,"m":0.18},
      {"s":"9.6","t":406,"m":0.263},{"s":"9.6","t":425,"m":0.36},{"s":"9.6","t":442,"m":0.453},{"s":"9.6","t":470,"m":0.53},
      {"s":"9.6","t":499,"m":0.579}
    ],
    "brk": [
      {"t":2.635,"t2":2.742,"m":1.0832,"m2":1.1174},
      {"t":2.721,"t2":2.828,"m":1.0832,"m2":1.1174},
      {"t":2.635,"t2":2.742,"m":-0.1129,"m2":-0.0787},
      {"t":2.721,"t2":2.828,"m":-0.1129,"m2":-0.0787}
    ]
  },
  "hconcat": [
    {
      "width": 364,
      "height": 524,
      "resolve": {"axis": {"x": "independent"}},
      "layer": [
        {
          "layer": [
            {
              "data": {"name": "pts"},
              "transform": [{"filter": "datum.t <= 2.71"}],
              "mark": {"type": "point", "filled": true, "size": 30, "opacity": 1, "clip": true},
              "encoding": {
                "x": {"field": "t", "type": "quantitative", "scale": {"domain": [-1, 2.71], "nice": false, "zero": false},
                      "axis": {"values": [-1, 0, 1, 2], "format": "d", "grid": true, "labelPadding": 7, "title": null}},
                "y": {"field": "m", "type": "quantitative", "scale": {"domain": [-0.095, 1.1], "nice": false, "zero": false},
                      "axis": {"values": [0, 0.2, 0.4, 0.6, 0.8, 1.0], "format": ".1f", "grid": true, "labelPadding": 13,
                               "title": "Magnetization (normalized)", "titlePadding": 8}},
                "color": {"field": "s", "type": "nominal",
                          "scale": {"domain": ["1.6", "3.2", "4.8", "6.4", "8.0", "9.6"],
                                    "range": ["#000000", "#8b0000", "#dd0000", "#ff2f00", "#ffa000", "#ffd700"]},
                          "legend": {"title": null, "orient": "none", "legendX": 10, "legendY": 302,
                                     "labelExpr": "datum.label + ' mJ/cm²'",
                                     "strokeColor": "#cccccc", "fillColor": "white", "cornerRadius": 4,
                                     "padding": 12, "rowPadding": 14.3, "symbolOffset": 9, "labelOffset": 25,
                                     "symbolType": "circle", "symbolSize": 40, "symbolStrokeWidth": 0}}
              }
            },
            {
              "data": {"name": "blk"},
              "transform": [{"filter": "datum.t <= 2.71"}],
              "mark": {"type": "rule", "color": "black", "strokeWidth": 2, "clip": true},
              "encoding": {
                "x": {"field": "t", "type": "quantitative"},
                "y": {"field": "lo", "type": "quantitative"},
                "y2": {"field": "hi"}
              }
            },
            {
              "data": {"name": "blk"},
              "transform": [{"filter": "datum.t <= 2.71"}],
              "mark": {"type": "point", "filled": true, "size": 30, "opacity": 1, "clip": true},
              "encoding": {
                "x": {"field": "t", "type": "quantitative"},
                "y": {"field": "m", "type": "quantitative"},
                "color": {"field": "s", "type": "nominal"}
              }
            },
            {
              "data": {"name": "fit"},
              "transform": [{"filter": "datum.t <= 2.71"}],
              "mark": {"type": "line", "strokeWidth": 3, "interpolate": "monotone", "clip": true},
              "encoding": {
                "x": {"field": "t", "type": "quantitative"},
                "y": {"field": "m", "type": "quantitative"},
                "color": {"field": "s", "type": "nominal"}
              }
            }
          ]
        },
        {
          "data": {"name": "brk"},
          "mark": {"type": "rule", "color": "black", "strokeWidth": 1.2},
          "encoding": {
            "x": {"field": "t", "type": "quantitative",
                  "axis": {"orient": "top", "values": [-1, 0, 1, 2], "labels": false, "grid": false, "title": null}},
            "x2": {"field": "t2"},
            "y": {"field": "m", "type": "quantitative"},
            "y2": {"field": "m2"}
          }
        }
      ]
    },
    {
      "width": 428,
      "height": 524,
      "resolve": {"axis": {"x": "independent"}},
      "layer": [
        {
          "layer": [
            {
              "data": {"name": "pts"},
              "transform": [{"filter": "datum.t >= 2.76"}],
              "mark": {"type": "point", "filled": true, "size": 30, "opacity": 1, "clip": true},
              "encoding": {
                "x": {"field": "t", "type": "quantitative", "scale": {"type": "log", "domain": [2.76, 731], "nice": false},
                      "axis": {"values": [3, 4, 5, 6, 7, 8, 9, 10, 20, 30, 40, 50, 60, 70, 80, 90, 100, 200, 300, 400, 500, 600, 700],
                               "labelExpr": "(datum.value == 10 || datum.value == 100) ? format(datum.value, 'd') : ''",
                               "grid": true, "labelPadding": 7, "title": null, "tickSize": -4}},
                "y": {"field": "m", "type": "quantitative", "scale": {"domain": [-0.095, 1.1], "nice": false, "zero": false},
                      "axis": {"values": [0, 0.2, 0.4, 0.6, 0.8, 1.0], "grid": true, "labels": false, "ticks": false, "domain": false, "title": null}},
                "color": {"field": "s", "type": "nominal", "legend": null}
              }
            },
            {
              "data": {"name": "blk"},
              "transform": [{"filter": "datum.t >= 2.76"}],
              "mark": {"type": "rule", "color": "black", "strokeWidth": 2, "clip": true},
              "encoding": {
                "x": {"field": "t", "type": "quantitative"},
                "y": {"field": "lo", "type": "quantitative"},
                "y2": {"field": "hi"}
              }
            },
            {
              "data": {"name": "blk"},
              "transform": [{"filter": "datum.t >= 2.76"}],
              "mark": {"type": "point", "filled": true, "size": 30, "opacity": 1, "clip": true},
              "encoding": {
                "x": {"field": "t", "type": "quantitative"},
                "y": {"field": "m", "type": "quantitative"},
                "color": {"field": "s", "type": "nominal", "legend": null}
              }
            },
            {
              "data": {"name": "fit"},
              "transform": [{"filter": "datum.t >= 2.76"}],
              "mark": {"type": "line", "strokeWidth": 3, "interpolate": "basis", "clip": true},
              "encoding": {
                "x": {"field": "t", "type": "quantitative"},
                "y": {"field": "m", "type": "quantitative"},
                "color": {"field": "s", "type": "nominal", "legend": null}
              }
            }
          ]
        },
        {
          "data": {"name": "blk"},
          "transform": [{"filter": "datum.t >= 2.76"}],
          "mark": {"type": "point", "opacity": 0, "clip": true},
          "encoding": {
            "x": {"field": "t", "type": "quantitative",
                  "axis": {"orient": "top", "values": [3, 4, 5, 6, 7, 8, 9, 10, 20, 30, 40, 50, 60, 70, 80, 90, 100, 200, 300, 400, 500, 600, 700],
                           "labels": false, "grid": false, "title": null, "tickSize": -4}},
            "y": {"field": "m", "type": "quantitative"}
          }
        }
      ]
    }
  ]
}
